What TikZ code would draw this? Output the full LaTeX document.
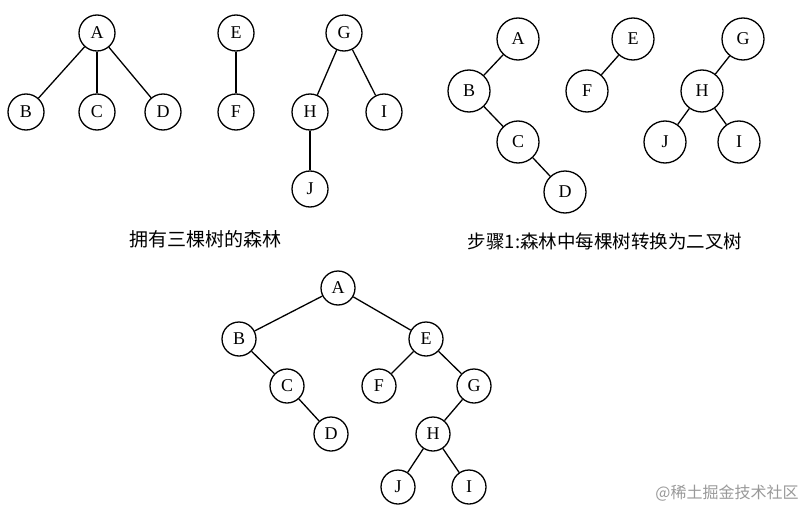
\documentclass[tikz,border=0pt]{standalone}
\usepackage{fontspec}
\setmainfont{Liberation Serif}
\newfontfamily\cjkfont{Noto Sans CJK SC}
\usetikzlibrary{positioning}

\begin{document}
\begin{tikzpicture}[
  x=1pt, y=-1pt,
  vertex/.style={circle, draw=black, line width=1.3pt, inner sep=0pt,
    minimum size=36pt, font=\fontsize{18}{18}\selectfont},
  wide/.style={minimum size=42pt},
  narrow/.style={minimum size=34pt},
  edge/.style={line width=1.3pt},
  caption/.style={font=\fontsize{19}{19}\cjkfont},
  watermark/.style={font=\fontsize{16}{16}\cjkfont, text=black!40}
  ]

  \useasboundingbox (0,0) rectangle (808,511);

  % forest with three trees
  \node (fA) [vertex] at (97,33) {A};
  \node (fB) [vertex] at (26,112) {B};
  \node (fC) [vertex] at (97,112) {C};
  \node (fD) [vertex] at (163,112) {D};
  \node (fE) [vertex] at (236,33) {E};
  \node (fF) [vertex] at (236,112) {F};
  \node (fG) [vertex] at (344,33) {G};
  \node (fH) [vertex] at (310,112) {H};
  \node (fI) [vertex] at (384,112) {I};
  \node (fJ) [vertex] at (310,189) {J};
  \draw [edge] (fA) -- (fB);
  \draw [edge] (fA) -- (fC);
  \draw [edge] (fA) -- (fD);
  \draw [edge] (fE) -- (fF);
  \draw [edge] (fG) -- (fH);
  \draw [edge] (fG) -- (fI);
  \draw [edge] (fH) -- (fJ);
  \node (fcap) [caption] at (205,239) {拥有三棵树的森林};

  % step 1: each tree as a binary tree
  \node (bA) [vertex,wide] at (518,39) {A};
  \node (bB) [vertex,wide] at (469,91) {B};
  \node (bC) [vertex,wide] at (518,142) {C};
  \node (bD) [vertex,wide] at (565,192) {D};
  \node (bE) [vertex,wide] at (633,39) {E};
  \node (bF) [vertex,wide] at (587,91) {F};
  \node (bG) [vertex,wide] at (743,39) {G};
  \node (bH) [vertex,wide] at (702,91) {H};
  \node (bJ) [vertex,wide] at (665,142) {J};
  \node (bI) [vertex,wide] at (739,142) {I};
  \draw [edge] (bA) -- (bB);
  \draw [edge] (bB) -- (bC);
  \draw [edge] (bC) -- (bD);
  \draw [edge] (bE) -- (bF);
  \draw [edge] (bG) -- (bH);
  \draw [edge] (bH) -- (bJ);
  \draw [edge] (bH) -- (bI);
  \node (bcap) [caption,font=\fontsize{18.5}{18.5}\cjkfont] at (605,241)
    {步骤1:森林中每棵树转换为二叉树};

  % whole forest as one binary tree
  \node (tA) [vertex,narrow] at (338,288) {A};
  \node (tB) [vertex,narrow] at (239,339) {B};
  \node (tC) [vertex,narrow] at (287,386) {C};
  \node (tD) [vertex,narrow] at (331,434) {D};
  \node (tE) [vertex,narrow] at (426,339) {E};
  \node (tF) [vertex,narrow] at (379,386) {F};
  \node (tG) [vertex,narrow] at (474,386) {G};
  \node (tH) [vertex,narrow] at (433,434) {H};
  \node (tJ) [vertex,narrow] at (398,487) {J};
  \node (tI) [vertex,narrow] at (469,487) {I};
  \draw [edge] (tA) -- (tB);
  \draw [edge] (tA) -- (tE);
  \draw [edge] (tB) -- (tC);
  \draw [edge] (tC) -- (tD);
  \draw [edge] (tE) -- (tF);
  \draw [edge] (tE) -- (tG);
  \draw [edge] (tG) -- (tH);
  \draw [edge] (tH) -- (tJ);
  \draw [edge] (tH) -- (tI);

  \node (wm) [watermark] at (727,493) {@稀土掘金技术社区};
\end{tikzpicture}
\end{document}
